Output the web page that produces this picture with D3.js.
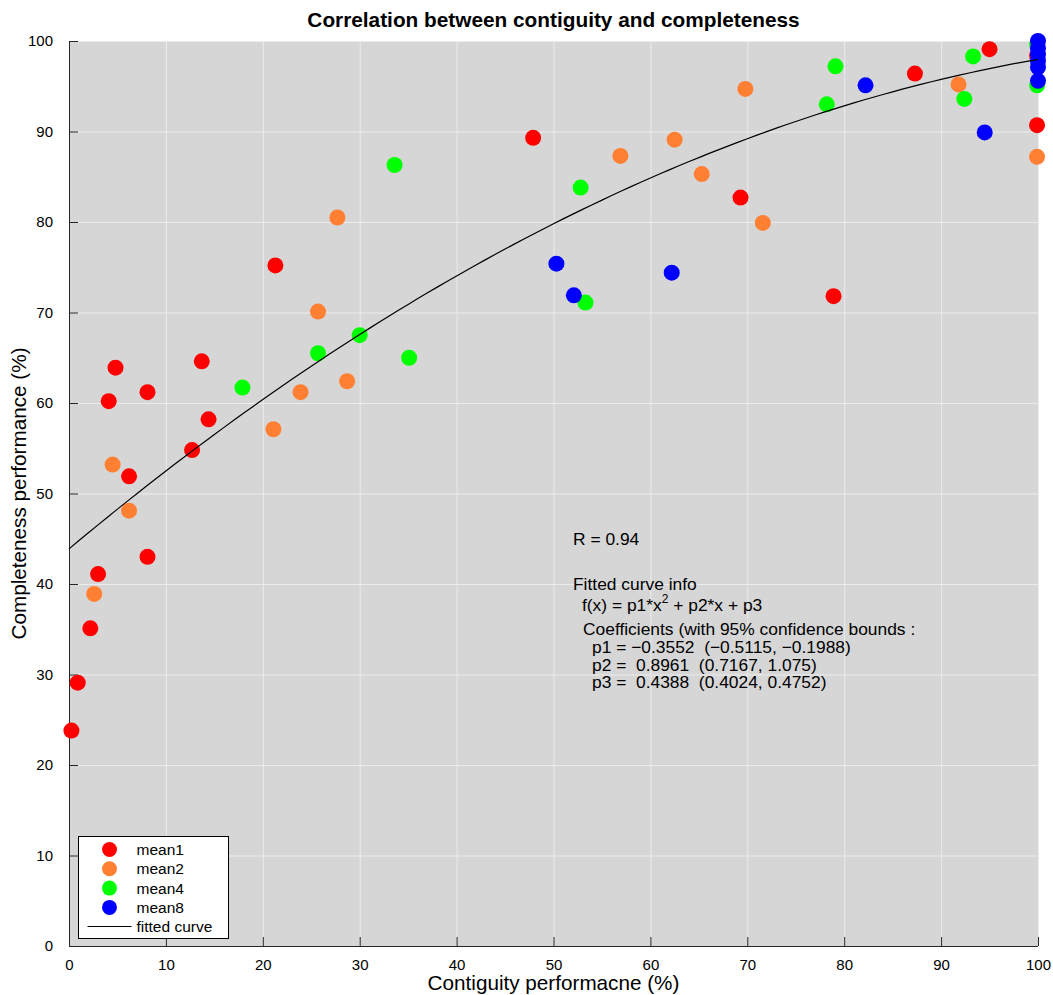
<!DOCTYPE html>
<html>
<head>
<meta charset="utf-8">
<script src="https://cdn.jsdelivr.net/npm/d3@7"></script>
<style>
  body { margin: 0; background: #fff; }
  svg text { font-family: "Liberation Sans", Arial, sans-serif; fill: #000; }
  .grid line { stroke: #ececec; stroke-width: 1; }
  .axis path, .axis line { stroke: #262626; }
  .axis text { font-size: 15px; }
  .info text { white-space: pre; }
</style>
</head>
<body>
<svg width="1053" height="995"></svg>
<script>
// data (contiguity %, completeness %)
const mean1X = [0.25, 0.9, 2.2, 3.0, 4.1, 4.8, 6.2, 8.1, 8.1, 12.7, 13.7, 14.4, 21.3, 47.9, 69.3, 78.9, 87.3, 95.0, 99.9, 99.9];
const mean1Y = [23.8, 29.1, 35.1, 41.1, 60.2, 63.9, 51.9, 61.2, 43.0, 54.8, 64.6, 58.2, 75.2, 89.3, 82.7, 71.8, 96.4, 99.1, 90.7, 98.4];
const mean2X = [2.6, 4.5, 6.2, 21.1, 23.9, 25.7, 27.7, 28.7, 56.9, 62.5, 65.3, 69.8, 71.6, 91.8, 99.9];
const mean2Y = [38.9, 53.2, 48.1, 57.1, 61.2, 70.1, 80.5, 62.4, 87.3, 89.1, 85.3, 94.7, 79.9, 95.2, 87.2];
const mean4X = [17.9, 25.7, 30.0, 33.6, 35.1, 52.8, 53.3, 78.2, 79.1, 92.4, 93.3, 99.9, 99.9];
const mean4Y = [61.7, 65.5, 67.5, 86.3, 65.0, 83.8, 71.1, 93.0, 97.2, 93.6, 98.3, 95.1, 99.6];
const mean8X = [50.3, 52.1, 62.2, 82.2, 94.5, 100, 100, 100, 100, 100, 100];
const mean8Y = [75.4, 71.9, 74.4, 95.1, 89.9, 95.6, 97.1, 97.8, 98.5, 99.2, 100];

const seriesNames = ["mean1", "mean2", "mean4", "mean8"];
const seriesColors = ["#ff0000", "#ff7f33", "#00ff00", "#0000ff"];
const xTicks = [0, 10, 20, 30, 40, 50, 60, 70, 80, 90, 100];
const yTicks = [0, 10, 20, 30, 40, 50, 60, 70, 80, 90, 100];

// fitted polynomial on normalised x (x/100), result * 100
const fitCoef = [-0.3552, 0.8961, 0.4388];
const infoLines = [
  "R = 0.94",
  "",
  "Fitted curve info",
  "f(x) = p1*x^2 + p2*x + p3",
  "Coefficients (with 95% confidence bounds :",
  "p1 = \u22120.3552  (\u22120.5115, \u22120.1988)",
  "p2 =  0.8961  (0.7167, 1.075)",
  "p3 =  0.4388  (0.4024, 0.4752)"
];

const series = [
  { x: mean1X, y: mean1Y },
  { x: mean2X, y: mean2Y },
  { x: mean4X, y: mean4Y },
  { x: mean8X, y: mean8Y }
];

const svg = d3.select("svg"),
    margin = { top: 41, right: 15, bottom: 49, left: 69 },
    width = +svg.attr("width") - margin.left - margin.right,
    height = +svg.attr("height") - margin.top - margin.bottom,
    g = svg.append("g").attr("transform", "translate(" + margin.left + "," + margin.top + ")");

const x = d3.scaleLinear().domain([0, 100]).range([0, width]);
const y = d3.scaleLinear().domain([0, 100]).range([height, 0]);

// фон
g.append("rect").attr("width", width).attr("height", height).attr("fill", "#d6d6d6");

// сетка
g.append("g").attr("class", "grid")
  .selectAll("line.v").data(xTicks).enter().append("line")
  .attr("x1", d => x(d) + 0.5).attr("x2", d => x(d) + 0.5)
  .attr("y1", 0).attr("y2", height);
g.append("g").attr("class", "grid")
  .selectAll("line.h").data(yTicks).enter().append("line")
  .attr("y1", d => y(d) + 0.5).attr("y2", d => y(d) + 0.5)
  .attr("x1", 0).attr("x2", width);

// оси (тики внутрь)
const xAxis = g.append("g").attr("class", "axis")
  .attr("transform", "translate(0," + height + ")")
  .call(d3.axisBottom(x).tickValues(xTicks).tickSize(-9).tickSizeOuter(0).tickPadding(13));
const yAxis = g.append("g").attr("class", "axis")
  .call(d3.axisLeft(y).tickValues(yTicks).tickSize(-9).tickSizeOuter(0).tickPadding(16));
xAxis.selectAll("text").attr("fill", "#000");
yAxis.selectAll("text").attr("fill", "#000");
xAxis.select(".domain").attr("d", "M0,0.5H" + width);
yAxis.select(".domain").attr("d", "M0.5,0V" + height);

// точки
series.forEach(function(s, i) {
  g.append("g").selectAll("circle")
    .data(s.x.map((v, j) => [v, s.y[j]]))
    .enter().append("circle")
    .attr("cx", d => x(d[0]))
    .attr("cy", d => y(d[1]))
    .attr("r", 8)
    .attr("fill", seriesColors[i]);
});

// кривая
const fit = t => 100 * (fitCoef[0] * t * t + fitCoef[1] * t + fitCoef[2]);
const curveX = d3.range(0, 100.01, 1);
const line = d3.line().x(d => x(d)).y(d => y(fit(d / 100)));
g.append("path").datum(curveX)
  .attr("d", line).attr("fill", "none")
  .attr("stroke", "#000").attr("stroke-width", 1.2);

// аннотация
const info = g.append("g").attr("class", "info").attr("font-size", 17.4);
const infoX = [504, 504, 504, 513, 514, 523, 523, 523];
const infoY = [504, 522, 549, 570, 594, 612, 630, 647];
infoLines.forEach(function(t, i) {
  if (!t) return;
  const txt = info.append("text").attr("x", infoX[i]).attr("y", infoY[i]);
  if (t.indexOf("^") >= 0) {
    const parts = t.split("^");
    txt.append("tspan").text(parts[0]);
    txt.append("tspan").attr("dy", -8).attr("font-size", 12).text(parts[1][0]);
    txt.append("tspan").attr("dy", 8).text(parts[1].slice(1));
  } else {
    txt.text(t);
  }
});

// легенда
const leg = g.append("g").attr("transform", "translate(9.5," + (795.5) + ")");
leg.append("rect").attr("width", 150).attr("height", 102)
  .attr("fill", "#fff").attr("stroke", "#000").attr("stroke-width", 1);
seriesNames.forEach(function(n, i) {
  leg.append("circle").attr("cx", 31).attr("cy", 13 + i * 19.3).attr("r", 7.5).attr("fill", seriesColors[i]);
  leg.append("text").attr("x", 58).attr("y", 18.5 + i * 19.3).attr("font-size", 15.5).text(n);
});
leg.append("line").attr("x1", 9).attr("x2", 53).attr("y1", 90).attr("y2", 90)
  .attr("stroke", "#000").attr("stroke-width", 1.2);
leg.append("text").attr("x", 58).attr("y", 95.5).attr("font-size", 15.5).text("fitted curve");

// заголовок и подписи осей
svg.append("text").attr("x", margin.left + width / 2).attr("y", 27)
  .attr("text-anchor", "middle").attr("font-size", 20.8).attr("font-weight", "bold")
  .text("Correlation between contiguity and completeness");
svg.append("text").attr("x", margin.left + width / 2).attr("y", 990)
  .attr("text-anchor", "middle").attr("font-size", 20.7)
  .text("Contiguity performacne (%)");
svg.append("text").attr("transform", "translate(26," + (margin.top + height / 2) + ") rotate(-90)")
  .attr("text-anchor", "middle").attr("font-size", 20.7)
  .text("Completeness performance (%)");
</script>
</body>
</html>
